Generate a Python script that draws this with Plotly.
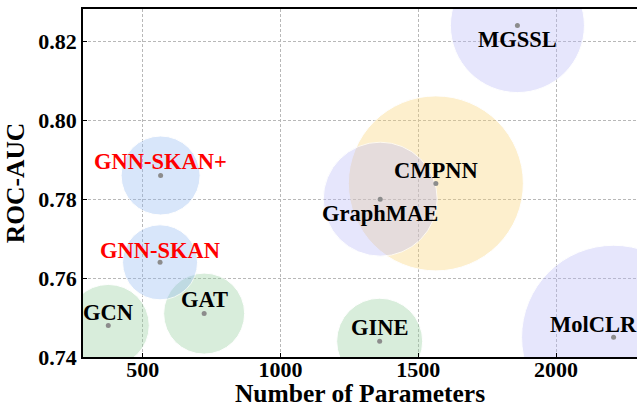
import plotly.graph_objects as go

# ---- data ----
models = ["GCN", "GAT", "GINE", "CMPNN", "GraphMAE", "MGSSL", "MolCLR", "GNN-SKAN", "GNN-SKAN+"]
num_params = [375, 723, 1360, 1564, 1362, 1860, 2209, 563, 565]
roc_auc = [0.748, 0.751, 0.744, 0.784, 0.780, 0.824, 0.745, 0.764, 0.786]
bubble_size = [82, 81, 86, 175, 114, 134, 184, 75, 79]
groups = ["gnn", "gnn", "gnn", "cmpnn", "pretrain", "pretrain", "pretrain", "ours", "ours"]

x_ticks = [500, 1000, 1500, 2000]
y_ticks = [0.74, 0.76, 0.78, 0.80, 0.82]

# ---- styles ----
group_color = {
    "gnn": "rgba(145,205,153,0.5)",
    "cmpnn": "rgba(251,211,113,0.5)",
    "pretrain": "rgba(185,185,249,0.5)",
    "ours": "rgba(145,185,241,0.5)",
}
label_offset = {
    "GCN": (0, 13), "GAT": (0, 14), "GINE": (0, 14), "CMPNN": (0, 13),
    "GraphMAE": (0, -14), "MGSSL": (0, -14), "MolCLR": (-20, 13),
    "GNN-SKAN": (0, 12), "GNN-SKAN+": (0, 14),
}
FONT = "Liberation Serif, Times New Roman, Times, serif"

fig = go.Figure()
fig.add_trace(go.Scatter(
    x=num_params, y=roc_auc, mode="markers",
    marker=dict(size=bubble_size, sizemode="diameter",
                color=[group_color[g] for g in groups],
                line=dict(color="white", width=1)),
    hoverinfo="skip", showlegend=False,
))
fig.add_trace(go.Scatter(
    x=num_params, y=roc_auc, mode="markers",
    marker=dict(size=5, color="#8c8c8c"),
    showlegend=False,
))

for m, xv, yv, g in zip(models, num_params, roc_auc, groups):
    dx, dy = label_offset[m]
    fig.add_annotation(
        x=xv, y=yv, text=f"<b>{m}</b>", showarrow=False,
        xshift=dx, yshift=dy,
        font=dict(family=FONT, size=22.5, color="red" if g == "ours" else "black"),
    )

axis_common = dict(
    showgrid=True, gridcolor="#b8b8b8", griddash="3px,2px", gridwidth=1,
    ticks="inside", ticklen=4, tickcolor="black",
    tickfont=dict(family=FONT, size=22, color="black", weight="bold"),
    zeroline=False, linecolor="black", linewidth=1.5, showline=True,
    automargin=False,
)

fig.update_xaxes(
    range=[283.3, 2294], tickvals=x_ticks, ticktext=[str(v) for v in x_ticks],
    mirror=True, ticklabelstandoff=-8,
    title=dict(text="<b>Number of Parameters</b>", font=dict(family=FONT, size=25.5, color="black"), standoff=6),
    **axis_common,
)
fig.update_yaxes(
    range=[0.74, 0.8282], tickvals=y_ticks, ticktext=[f"{v:.2f}" for v in y_ticks],
    mirror=False,
    title=dict(text="<b>ROC-AUC</b>", font=dict(family=FONT, size=25.5, color="black"), standoff=6),
    **axis_common,
)

fig.update_layout(
    width=637, height=408,
    margin=dict(l=83, r=0, t=9, b=51),
    plot_bgcolor="white", paper_bgcolor="white",
    font=dict(family=FONT),
)

fig.write_html("out.html", config={"displayModeBar": False},
               post_script="document.body.style.margin='0';")
